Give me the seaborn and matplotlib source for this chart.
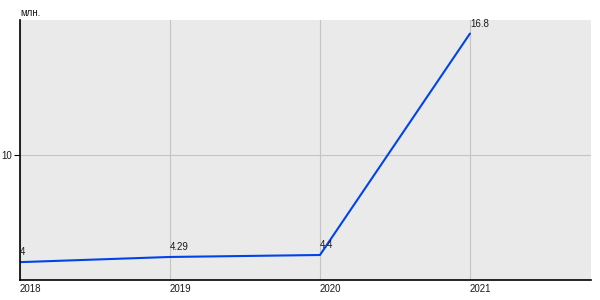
import matplotlib
matplotlib.use("Agg")
import matplotlib.pyplot as plt
import seaborn as sns
import pandas as pd

years = [2018, 2019, 2020, 2021]
values = [4, 4.29, 4.4, 16.8]
value_labels = ["4", "4.29", "4.4", "16.8"]
x_tick_labels = ["2018", "2019", "2020", "2021"]
y_ticks = [10]
unit_label = "млн."

sns.set_theme(style="white")
plt.rcParams['font.family'] = ['Liberation Sans', 'DejaVu Sans']

df = pd.DataFrame({"year": years, "value": values})

fig = plt.figure(figsize=(6, 3), dpi=100)
ax = fig.add_axes([20/600, 20/300, 571/600, 260/300])
ax.set_facecolor("#eaeaea")

sns.lineplot(data=df, x="year", y="value", ax=ax, color="#0044e6", linewidth=1.5)

fs = 7
ax.set_xlim(2018, 2021.807)
ax.set_ylim(3.0, 17.56)
ax.set_xticks(years)
ax.set_xticklabels(x_tick_labels, ha="left", fontsize=fs, color="#1a1a1a")
ax.set_yticks(y_ticks)
ax.set_yticklabels([str(t) for t in y_ticks], fontsize=fs, color="#1a1a1a")
ax.tick_params(axis="x", length=0, pad=3)
ax.tick_params(axis="y", length=4, width=0.8, color="black", pad=2, direction="out", left=True)
ax.grid(True, color="#c4c4c4", linewidth=0.8)
ax.set_axisbelow(True)
ax.set_xlabel("")
ax.set_ylabel("")

for s in ["top", "right"]:
    ax.spines[s].set_visible(False)
for s in ["left", "bottom"]:
    ax.spines[s].set_visible(True)
    ax.spines[s].set_color("black")
    ax.spines[s].set_linewidth(1.2)

for x, y, lab in zip(years, values, value_labels):
    ax.annotate(lab, (x, y), xytext=(0, 7), textcoords="offset pixels",
                ha="left", va="baseline", fontsize=fs, color="#1a1a1a")

fig.text(20/600, 1 - 13/300, unit_label, ha="left", va="center", fontsize=fs, color="#1a1a1a")

fig.savefig("out.png", dpi=100)
